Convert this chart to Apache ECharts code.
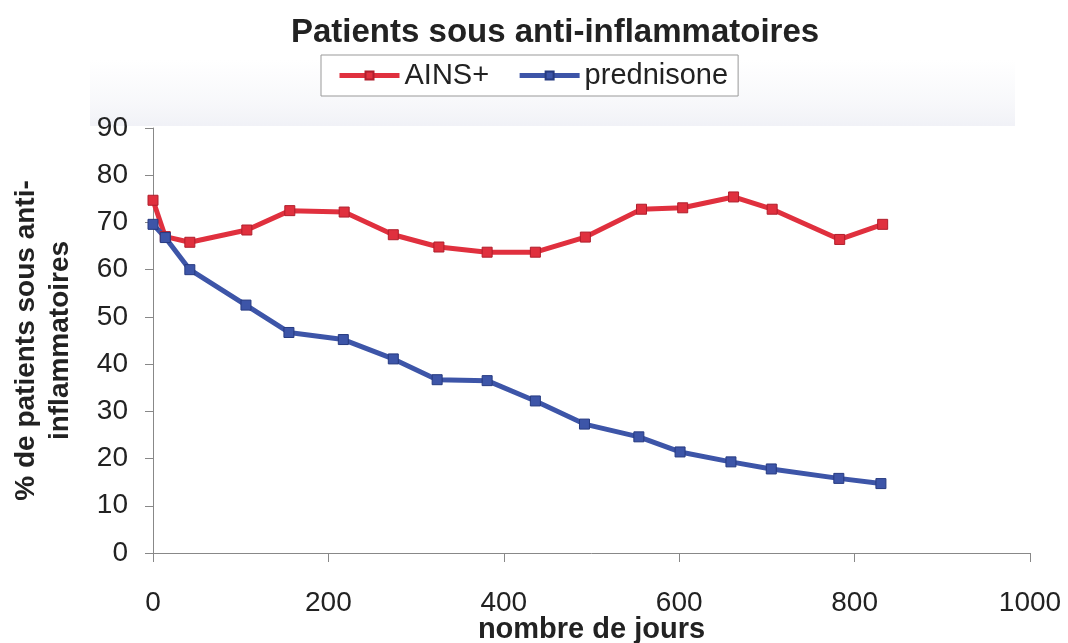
<!DOCTYPE html>
<html>
<head>
<meta charset="utf-8">
<script src="https://cdn.jsdelivr.net/npm/echarts@6/dist/echarts.min.js"></script>
<style>
  html, body { margin: 0; padding: 0; background: #fff; }
  #chart { width: 1068px; height: 643px; }
</style>
</head>
<body>
<div id="chart"></div>
<script>
// jours de suivi et % de patients
var joursAins = [0, 14, 42, 107, 156, 218, 274, 326, 381, 436, 493, 557, 604, 662, 706, 783, 832];
var ains = [74.7, 67.0, 65.8, 68.4, 72.5, 72.2, 67.4, 64.8, 63.7, 63.7, 66.9, 72.8, 73.1, 75.4, 72.8, 66.4, 69.6];
var joursPred = [0, 14, 42, 106, 155, 217, 274, 324, 381, 436, 492, 554, 601, 659, 705, 782, 830];
var prednisone = [69.6, 66.8, 60.0, 52.5, 46.7, 45.2, 41.1, 36.7, 36.5, 32.2, 27.3, 24.6, 21.4, 19.3, 17.8, 15.8, 14.7];

function pairs(xs, ys) {
  return xs.map(function (x, i) { return [x, ys[i]]; });
}

var chart = echarts.init(document.getElementById('chart'));
var font = 'Liberation Sans, Arial, sans-serif';
var option = {
  backgroundColor: '#fff',
  animation: false,
  textStyle: { fontFamily: font },
  graphic: [{
    type: 'rect',
    z: -10,
    shape: { x: 90, y: 60, width: 925, height: 66 },
    style: {
      fill: new echarts.graphic.LinearGradient(0, 0, 0, 1, [
        { offset: 0, color: 'rgba(243,244,248,0)' },
        { offset: 0.6, color: 'rgba(243,244,248,0.6)' },
        { offset: 1, color: 'rgba(239,240,246,0.9)' }
      ])
    }
  }],
  title: {
    text: 'Patients sous anti-inflammatoires',
    left: 291,
    top: 16,
    padding: 0,
    textStyle: { fontFamily: font, fontSize: 33, fontWeight: 'bold', color: '#222' }
  },
  legend: {
    left: 321,
    top: 55,
    padding: [6, 10, 6, 16],
    itemGap: 28,
    itemWidth: 60,
    itemHeight: 10,
    backgroundColor: '#fff',
    borderColor: '#999',
    borderWidth: 1,
    borderRadius: 0,
    lineStyle: { width: 5 },
    textStyle: { fontFamily: font, fontSize: 29, color: '#222' },
    data: ['AINS+', 'prednisone']
  },
  grid: { left: 153, right: 38, top: 128, bottom: 90, outerBoundsMode: 'none', containLabel: false },
  xAxis: {
    type: 'value',
    min: 0,
    max: 1000,
    interval: 200,
    name: 'nombre de jours',
    nameLocation: 'middle',
    nameGap: 62,
    nameMoveOverlap: false,
    nameTextStyle: { fontFamily: font, fontSize: 29, fontWeight: 'bold', color: '#222' },
    axisLine: { lineStyle: { color: '#888', width: 1 } },
    axisTick: { length: 9, lineStyle: { color: '#888' } },
    axisLabel: {
      fontFamily: font, fontSize: 28, color: '#222', margin: 36,
      formatter: function (v) { return String(v); }
    },
    splitLine: { show: false }
  },
  yAxis: {
    type: 'value',
    min: 0,
    max: 90,
    interval: 10,
    name: '% de patients sous anti-\ninflammatoires',
    nameLocation: 'middle',
    nameRotate: 90,
    nameGap: 76,
    nameMoveOverlap: false,
    nameTextStyle: { fontFamily: font, fontSize: 28, fontWeight: 'bold', color: '#222', lineHeight: 34 },
    axisLine: { show: true, lineStyle: { color: '#888', width: 1 } },
    axisTick: { show: true, length: 8, lineStyle: { color: '#888' } },
    axisLabel: { fontFamily: font, fontSize: 28, color: '#222', margin: 25 },
    splitLine: { show: false }
  },
  series: [
    {
      name: 'AINS+',
      type: 'line',
      data: pairs(joursAins, ains),
      symbol: 'rect',
      symbolSize: 10,
      itemStyle: { color: '#e0303e', borderColor: '#b01e2c', borderWidth: 1 },
      lineStyle: { color: '#e0303e', width: 5 }
    },
    {
      name: 'prednisone',
      type: 'line',
      data: pairs(joursPred, prednisone),
      symbol: 'rect',
      symbolSize: 10,
      itemStyle: { color: '#3d55a8', borderColor: '#263a80', borderWidth: 1 },
      lineStyle: { color: '#3d55a8', width: 5 }
    }
  ]
};
chart.setOption(option);
</script>
</body>
</html>
